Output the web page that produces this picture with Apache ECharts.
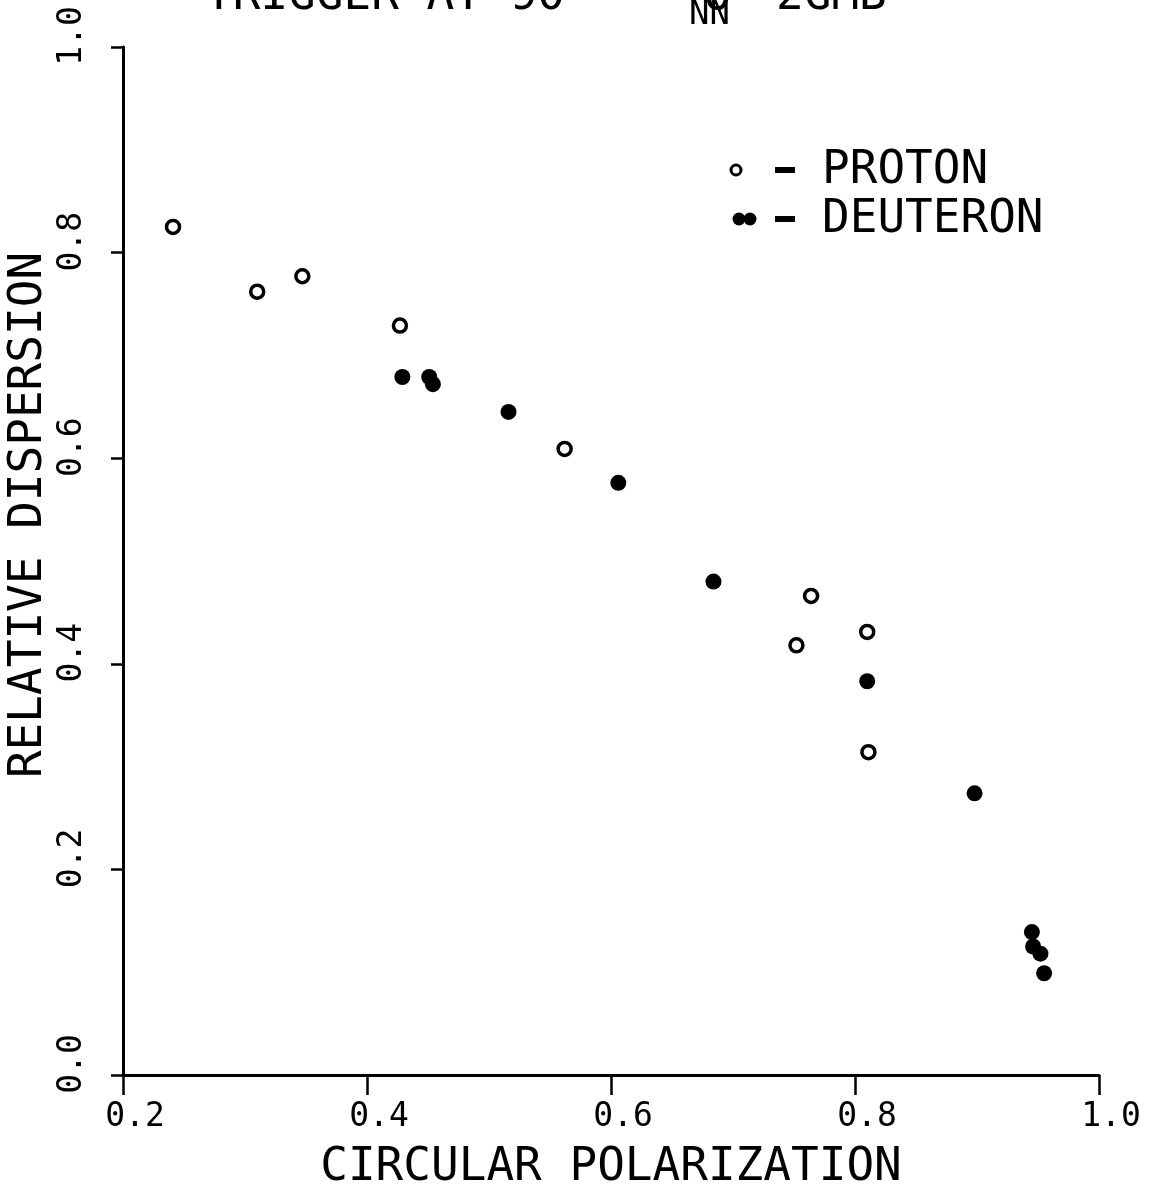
<!DOCTYPE html>
<html><head><meta charset="utf-8">
<script src="https://cdn.jsdelivr.net/npm/echarts/dist/echarts.min.js"></script>
<style>html,body{margin:0;padding:0;background:#fff}#c{width:1149px;height:1192px}</style>
</head><body><div id="c"></div>
<script>
// Proton (open circles)
const protonX = [0.241, 0.310, 0.347, 0.427, 0.562, 0.764, 0.752, 0.810, 0.811];
const protonY = [0.825, 0.762, 0.777, 0.729, 0.609, 0.466, 0.418, 0.431, 0.314];
// Deuteron (filled circles)
const deuteronX = [0.429, 0.451, 0.454, 0.516, 0.606, 0.684, 0.810, 0.898, 0.945, 0.946, 0.952, 0.955];
const deuteronY = [0.679, 0.679, 0.672, 0.645, 0.576, 0.480, 0.383, 0.274, 0.139, 0.125, 0.118, 0.099];
const xTickValues = [0.2, 0.4, 0.6, 0.8, 1.0];
const yTickValues = [0.0, 0.2, 0.4, 0.6, 0.8, 1.0];
const xTitle = 'CIRCULAR POLARIZATION';
const yTitle = 'RELATIVE DISPERSION';
const legendNames = ['PROTON', 'DEUTERON'];

const F = "'DejaVu Sans Mono', monospace";
const chart = echarts.init(document.getElementById('c'), null, {renderer: 'canvas'});
const pair = (xs, ys) => xs.map((x, i) => [x, ys[i]]);

chart.setOption({
  backgroundColor: '#fff',
  animation: false,
  grid: {left: 123, right: 50, top: 47, bottom: 117, containLabel: false, outerBoundsMode: 'none'},
  xAxis: {
    type: 'value', min: xTickValues[0], max: xTickValues[xTickValues.length - 1], interval: 0.2,
    name: xTitle, nameLocation: 'middle', nameGap: 70,
    nameTextStyle: {fontFamily: F, fontSize: 46, color: '#000'},
    axisLine: {show: true, lineStyle: {color: '#000', width: 3}},
    axisTick: {show: true, inside: false, length: 20, lineStyle: {color: '#000', width: 2.5}},
    axisLabel: {fontFamily: F, fontSize: 33, color: '#000', margin: 26, padding: [0, 0, 0, 24],
      formatter: v => v.toFixed(1)},
    splitLine: {show: false}
  },
  yAxis: {
    type: 'value', min: yTickValues[0], max: yTickValues[yTickValues.length - 1], interval: 0.2,
    name: yTitle, nameLocation: 'middle', nameGap: 71, nameMoveOverlap: false,
    nameTextStyle: {fontFamily: F, fontSize: 46, color: '#000', padding: [0, 0, 0, 92]},
    axisLine: {show: true, lineStyle: {color: '#000', width: 3}},
    axisTick: {show: true, inside: false, length: 12, lineStyle: {color: '#000', width: 2.5}},
    axisLabel: {fontFamily: F, fontSize: 33, color: '#000', rotate: 90, margin: 34,
      padding: [0, 0, 0, 22], formatter: v => v.toFixed(1)},
    splitLine: {show: false}
  },
  series: [
    {name: legendNames[0], type: 'scatter', data: pair(protonX, protonY), symbol: 'circle', symbolSize: 13,
      itemStyle: {color: '#fff', borderColor: '#000', borderWidth: 3.5, opacity: 1}, z: 3},
    {name: legendNames[1], type: 'scatter', data: pair(deuteronX, deuteronY), symbol: 'circle', symbolSize: 16,
      itemStyle: {color: '#000', opacity: 1}, z: 2}
  ],
  graphic: [
    // clipped title at top
    {type: 'text', left: 205, top: -26, style: {text: 'TRIGGER AT 90  -  σ', font: '46px ' + F, fill: '#000'}},
    {type: 'text', left: 689, top: -2, style: {text: 'NN', font: '34px ' + F, fill: '#000'}},
    {type: 'text', left: 776, top: -26, style: {text: '2GMB', font: '46px ' + F, fill: '#000'}},
    // legend
    {type: 'circle', shape: {cx: 736, cy: 170, r: 5}, style: {fill: '#fff', stroke: '#000', lineWidth: 3}},
    {type: 'rect', shape: {x: 775, y: 167, width: 20, height: 6}, style: {fill: '#000'}},
    {type: 'text', left: 822, top: 148, style: {text: legendNames[0], font: '46px ' + F, fill: '#000'}},
    {type: 'circle', shape: {cx: 739, cy: 219, r: 6.5}, style: {fill: '#000'}},
    {type: 'circle', shape: {cx: 750, cy: 219, r: 6.5}, style: {fill: '#000'}},
    {type: 'rect', shape: {x: 775, y: 216, width: 20, height: 6}, style: {fill: '#000'}},
    {type: 'text', left: 822, top: 197, style: {text: legendNames[1], font: '46px ' + F, fill: '#000'}}
  ]
});
</script></body></html>
